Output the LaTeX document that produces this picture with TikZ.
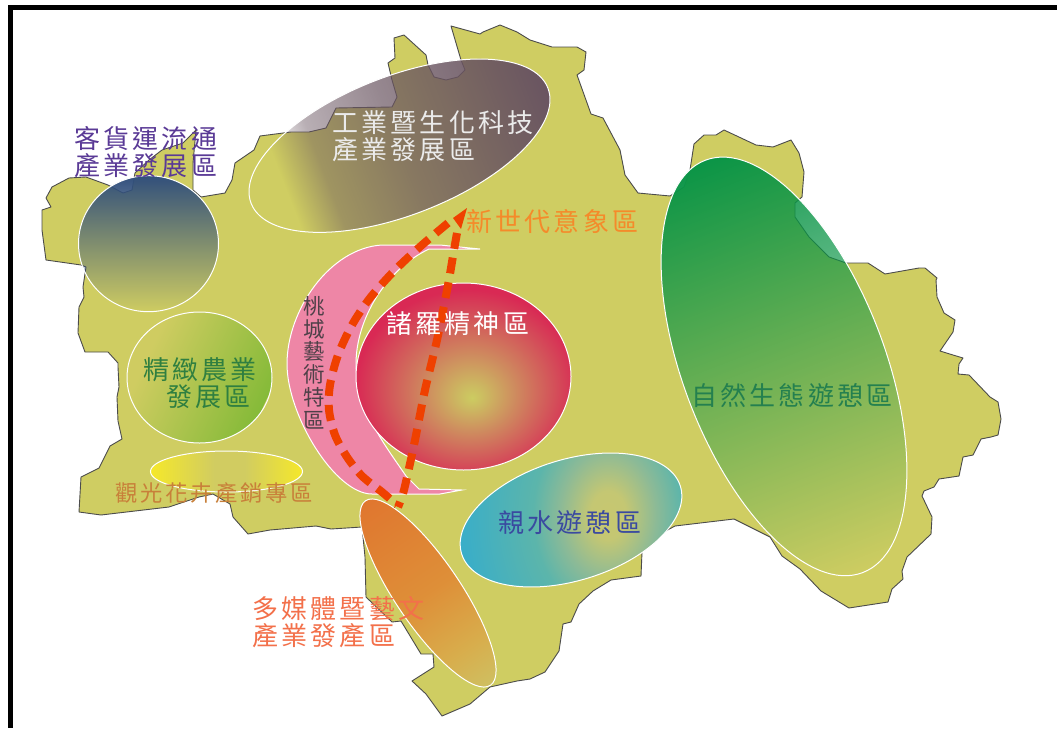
\documentclass[tikz,border=0pt]{standalone}
\usepackage{fontspec}
\usetikzlibrary{fadings}
\newfontfamily\cjk[LetterSpace=12.5]{Noto Sans CJK TC}
\newfontfamily\cjkv{Noto Sans CJK TC}
\definecolor{mapc}{HTML}{CFCD62}
\definecolor{zgreen}{HTML}{0B9547}
\definecolor{zpurple}{HTML}{6A5561}
\definecolor{zblue}{HTML}{32507C}
\definecolor{zpink}{HTML}{EE86A6}
\definecolor{zdash}{HTML}{EF4000}
\definecolor{tviolet}{HTML}{5A3A96}
\definecolor{tnew}{HTML}{F58A2A}
\definecolor{tfarm}{HTML}{2F7F40}
\definecolor{tflower}{HTML}{C8803A}
\definecolor{tmedia}{HTML}{F3704A}
\definecolor{twater}{HTML}{3A4AA0}
\definecolor{teco}{HTML}{24804F}
\definecolor{tart}{HTML}{4E4048}
\pgfdeclarehorizontalshading{fadelinear}{100bp}{color(0bp)=(pgftransparent!0); color(25bp)=(pgftransparent!0); color(75bp)=(pgftransparent!100); color(100bp)=(pgftransparent!100)}
\pgfdeclarefading{zonefade}{\pgfuseshading{fadelinear}}
\pgfdeclarehorizontalshading{fadepurple}{100bp}{color(0bp)=(pgftransparent!100); color(31bp)=(pgftransparent!100); color(37.5bp)=(pgftransparent!53); color(50bp)=(pgftransparent!30); color(75bp)=(pgftransparent!0); color(100bp)=(pgftransparent!0)}
\pgfdeclarefading{purplefade}{\pgfuseshading{fadepurple}}
\pgfdeclarehorizontalshading{orangezone}{100bp}{rgb(0bp)=(.878,.463,.184); rgb(25bp)=(.878,.463,.184); rgb(50bp)=(.871,.561,.22); rgb(65bp)=(.847,.678,.298); rgb(75bp)=(.81,.75,.38); rgb(100bp)=(.81,.75,.38)}
\pgfdeclarehorizontalshading{yellowzone}{100bp}{rgb(0bp)=(.961,.91,.165); rgb(25bp)=(.961,.91,.165); rgb(46bp)=(.82,.80,.38); rgb(56bp)=(.82,.80,.38); rgb(75bp)=(.961,.91,.165); rgb(100bp)=(.961,.91,.165)}
\pgfdeclarehorizontalshading{farmzone}{100bp}{rgb(0bp)=(.81,.80,.38); rgb(30bp)=(.81,.80,.38); rgb(75bp)=(.52,.73,.22); rgb(100bp)=(.52,.73,.22)}
\pgfdeclareradialshading{tealzone}{\pgfpointorigin}{rgb(0bp)=(.78,.78,.44); rgb(3bp)=(.77,.78,.45); rgb(8bp)=(.55,.73,.59); rgb(12.5bp)=(.36,.71,.67); rgb(25bp)=(.22,.68,.79); rgb(50bp)=(.22,.68,.79)}
\pgfdeclareradialshading{redzone}{\pgfpoint{2bp}{-5.7bp}}{rgb(0bp)=(.80,.80,.38); rgb(3bp)=(.80,.73,.38); rgb(11bp)=(.81,.53,.37); rgb(20bp)=(.83,.31,.35); rgb(26bp)=(.85,.16,.33); rgb(50bp)=(.85,.16,.33)}
\tikzset{
  mapshape/.style={fill=mapc,draw=black!70,line width=.9pt,line join=round},
  rimline/.style={draw=white,line width=1pt},
  routedash/.style={draw=zdash,line width=8pt,dash pattern=on 16pt off 9pt},
  zonetext/.style={inner sep=0pt,outer sep=0pt,align=left,anchor=north west,font=\cjk\fontsize{26}{27}\selectfont},
}
\begin{document}
\begin{tikzpicture}[x=1pt,y=-1pt]
\useasboundingbox (0,0) rectangle (1057,728);
\fill[white] (0,0) rectangle (1057,728);
\fill[black] (7.5,5) rectangle (1057,10);
\fill[black] (7.5,5) rectangle (12.5,728);
% territory
\draw[mapshape] (118,363)--(118,367)--(119,387)--(117,397)--(118,421)--(122,439)--(110,446)--(99,468)--(81,477)--(79,512)--(101,515)--(169,507)--(199,497)--(213,494)--(230,504)--(233,517)--(248,534)--(270,530)--(316,526)--(331,529)--(362,527)--(365,557)--(366,597)--(392,622)--(401,621)--(421,654)--(433,654)--(434,667)--(412,681)--(426,694)--(442,716)--(470,704)--(490,687)--(517,681)--(530,679)--(545,672)--(559,651)--(563,624)--(571,622)--(579,604)--(593,591)--(611,580)--(641,576)--(642,552)--(660,534)--(675,526)--(734,519)--(770,537)--(782,556)--(800,569)--(821,591)--(849,608)--(888,602)--(892,589)--(903,579)--(902,571)--(907,557)--(931,534)--(932,517)--(922,496)--(924,491)--(934,487)--(939,479)--(959,476)--(963,457)--(973,455)--(981,439)--(991,437)--(998,435)--(1001,419)--(998,402)--(990,397)--(969,375)--(958,374)--(959,364)--(963,358)--(953,355)--(940,351)--(953,332)--(955,320)--(944,313)--(937,297)--(936,280)--(937,278)--(925,268)--(919,268)--(885,274)--(868,263)--(846,263)--(829,257)--(809,237)--(795,217)--(795,203)--(802,197)--(804,172)--(799,153)--(791,140)--(773,147)--(756,145)--(724,130)--(716,135)--(704,135)--(694,144)--(690,170)--(684,187)--(670,196)--(638,193)--(625,175)--(620,150)--(603,118)--(591,114)--(577,75)--(584,70)--(586,52)--(577,47)--(552,47)--(530,40)--(517,32)--(500,25)--(483,32)--(480,34)--(451,26)--(461,60)--(465,70)--(458,77)--(446,80)--(434,77)--(428,65)--(426,55)--(404,35)--(394,38)--(395,58)--(388,63)--(392,80)--(397,97)--(392,107)--(336,108)--(326,128)--(309,132)--(291,132)--(260,136)--(254,150)--(235,163)--(232,180)--(225,193)--(201,197)--(193,190)--(193,163)--(196,130)--(183,143)--(162,150)--(149,160)--(135,173)--(132,190)--(123,193)--(108,185)--(86,177)--(69,178)--(52,187)--(46,198)--(51,207)--(42,210)--(42,230)--(46,260)--(81,265)--(86,267)--(83,287)--(84,297)--(79,307)--(78,333)--(85,352)--(108,352)--cycle;
% industry zone
\begin{scope}[transform canvas={shift={(399.5,145.7)},rotate=21.25}]
\fill[zpurple,path fading=purplefade] (0,0) ellipse [x radius=159.2,y radius=69.4];
\draw[rimline] (0,0) ellipse [x radius=159.2,y radius=69.4];
\end{scope}
% logistics zone
\begin{scope}[transform canvas={shift={(148.5,243.7)},rotate=-90}]
\fill[zblue,path fading=zonefade] (0,0) ellipse [x radius=68,y radius=70];
\draw[rimline] (0,0) ellipse [x radius=68,y radius=70];
\end{scope}
% ecology zone
\begin{scope}[transform canvas={shift={(784,366.4)},rotate=-69.1}]
\fill[zgreen,path fading=zonefade] (0,0) ellipse [x radius=220.7,y radius=101];
\draw[rimline] (0,0) ellipse [x radius=220.7,y radius=101];
\end{scope}
% farming zone
\begin{scope}
\clip (199.5,377.5) ellipse [x radius=72.5,y radius=65.5];
\begin{scope}[transform canvas={shift={(199.5,377.5)},rotate=-25}]
\shade[shading=farmzone] (-70,-90) rectangle (70,90);
\end{scope}
\end{scope}
\draw[rimline] (199.5,377.5) ellipse [x radius=72.5,y radius=65.5];
% flower zone
\shade[shading=yellowzone] (226.5,471.5) ellipse [x radius=76,y radius=20.5];
\draw[rimline] (226.5,471.5) ellipse [x radius=76,y radius=20.5];
% pink crescent
\draw[rimline,fill=zpink] (480,249) -- (440,245) -- (382,245) .. controls (330,248) and (287,310) .. (287,364) .. controls (287,415) and (335,494) .. (372,494) -- (440,494) -- (462,490) -- (419,489) -- (406,476) .. controls (385,445) and (357,410) .. (356,364) .. controls (356,320) and (385,270) .. (429,249) -- cycle;
% spirit zone
\shade[shading=redzone] (463.5,376.5) ellipse [x radius=107.5,y radius=93.5];
\draw[rimline] (463.5,376.5) ellipse [x radius=107.5,y radius=93.5];
% water zone
\begin{scope}
\clip[rotate around={17.2:(571,520)}] (571,520) ellipse [x radius=114.5,y radius=60.5];
\shade[shading=tealzone] (458,315) rectangle (758,715);
\end{scope}
\begin{scope}[transform canvas={shift={(571,520)},rotate=17.2}]
\draw[rimline] (0,0) ellipse [x radius=114.5,y radius=60.5];
\end{scope}
% media zone
\begin{scope}[transform canvas={shift={(428,593)},rotate=-55.9}]
\shade[shading=orangezone] (0,0) ellipse [x radius=111.4,y radius=32.6];
\draw[rimline] (0,0) ellipse [x radius=111.4,y radius=32.6];
\end{scope}
% routes
\draw[routedash] plot[smooth] coordinates {(448,223)(422,245)(395,270)(370,298)(352,325)(338,355)(330,385)(329,410)(335,435)(347,457)(362,476)(382,492)(397,505)};
\draw[routedash] plot[smooth] coordinates {(457,233)(454,250)(448,285)(437,340)(425,390)(414,445)(404,490)(398,507)};
\fill[zdash] (467,208) -- (453,218) -- (461,229) -- cycle;
% labels
\node[zonetext,text=white!92!black] (tIndustry) at (332,111) {工業暨生化科技\\產業發展區};
\node[zonetext,text=tviolet] (tLogistics) at (74,126) {客貨運流通\\產業發展區};
\node[zonetext,text=tnew] (tNew) at (466,209) {新世代意象區};
\node[zonetext,text=white] (tSpirit) at (386,312) {諸羅精神區};
\node[zonetext,text=tfarm] (tFarm) at (143,358) {精緻農業\\\hspace*{23pt}發展區};
\node[zonetext,text=tflower,font=\cjk\fontsize{22.3}{24}\selectfont] (tFlower) at (115,483) {觀光花卉產銷專區};
\node[zonetext,text=tmedia] (tMedia) at (252,596.5) {多媒體暨藝文\\產業發產區};
\node[zonetext,text=twater] (tWater) at (498,510) {親水遊憩區};
\node[zonetext,text=teco] (tEco) at (691,383) {自然生態遊憩區};
\node[inner sep=0pt,align=center,anchor=north,text=tart,font=\cjkv\fontsize{21.5}{22.8}\selectfont] (tArt) at (314,296) {桃\\城\\藝\\術\\特\\區};
\end{tikzpicture}
\end{document}
